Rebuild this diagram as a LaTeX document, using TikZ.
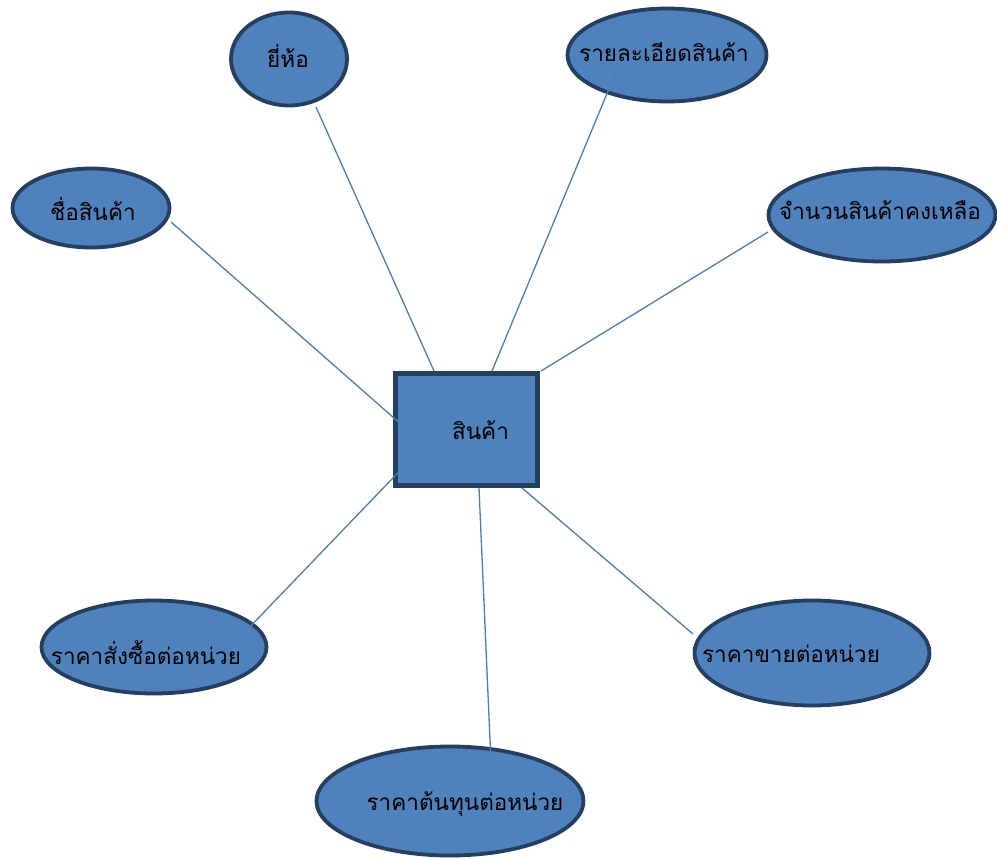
\documentclass[tikz,border=0pt]{standalone}
\usepackage{fontspec}
\newfontfamily\thaifont[Script=Thai]{Loma}
\usetikzlibrary{shapes.geometric}
\definecolor{fillb}{HTML}{4F81BD}
\definecolor{edgeb}{HTML}{243F60}
\definecolor{linkb}{HTML}{4A7EBB}
\tikzset{
  attr/.style={ellipse, draw=edgeb, fill=fillb, line width=3.8pt, inner sep=0pt},
  ent/.style={rectangle, draw=edgeb, fill=fillb, line width=5pt, inner sep=0pt, minimum width=142pt, minimum height=112pt},
  link/.style={draw=linkb, line width=1.3pt},
  txt/.style={font=\thaifont\fontsize{22.5}{26}\selectfont, text=black}
}
\begin{document}
\begin{tikzpicture}[x=1pt,y=-1pt]
\useasboundingbox (0,0) rectangle (997,859);
% entity
\node[ent, label={[txt, shift={(14pt,-1pt)}]center:สินค้า}] (e) at (466.5,429.5) {};
% attributes
\node[attr, minimum width=116pt, minimum height=93pt, label={[txt, shift={(-1pt,3pt)}]center:ยี่ห้อ}] (a1) at (289,59) {};
\node[attr, minimum width=199pt, minimum height=93pt, label={[txt, shift={(-3pt,3pt)}]center:รายละเอียดสินค้า}] (a2) at (667,55) {};
\node[attr, minimum width=157pt, minimum height=79pt, label={[txt, shift={(2pt,-1pt)}]center:ชื่อสินค้า}] (a3) at (91,208) {};
\node[attr, minimum width=227pt, minimum height=93pt, label={[txt, shift={(-2pt,5pt)}]center:จำนวนสินค้าคงเหลือ}] (a4) at (882,215) {};
\node[attr, minimum width=225pt, minimum height=93pt, label={[txt, shift={(-8pt,-6pt)}]center:ราคาสั่งซื้อต่อหน่วย}] (a5) at (154,647) {};
\node[attr, minimum width=235pt, minimum height=105pt, label={[txt, shift={(-21pt,-1pt)}]center:ราคาขายต่อหน่วย}] (a6) at (812,653) {};
\node[attr, minimum width=267pt, minimum height=109pt, label={[txt, shift={(15pt,-3pt)}]center:ราคาต้นทุนต่อหน่วย}] (a7) at (450,801) {};
% connector ends
\coordinate (p1a) at (171,222); \coordinate (p1b) at (411,433);
\coordinate (p2a) at (316,107); \coordinate (p2b) at (434,371);
\coordinate (p3a) at (618,67);  \coordinate (p3b) at (492,371);
\coordinate (p4a) at (768,232); \coordinate (p4b) at (541,371);
\coordinate (p5a) at (243,634); \coordinate (p5b) at (465,403);
\coordinate (p6a) at (491,763); \coordinate (p6b) at (479,488);
\coordinate (p7a) at (693,634); \coordinate (p7b) at (522,488);
\draw[link] (p1a) -- (p1b);
\draw[link] (p2a) -- (p2b);
\draw[link] (p3a) -- (p3b);
\draw[link] (p4a) -- (p4b);
\draw[link] (p5a) -- (p5b);
\draw[link] (p6a) -- (p6b);
\draw[link] (p7a) -- (p7b);
\end{tikzpicture}
\end{document}
